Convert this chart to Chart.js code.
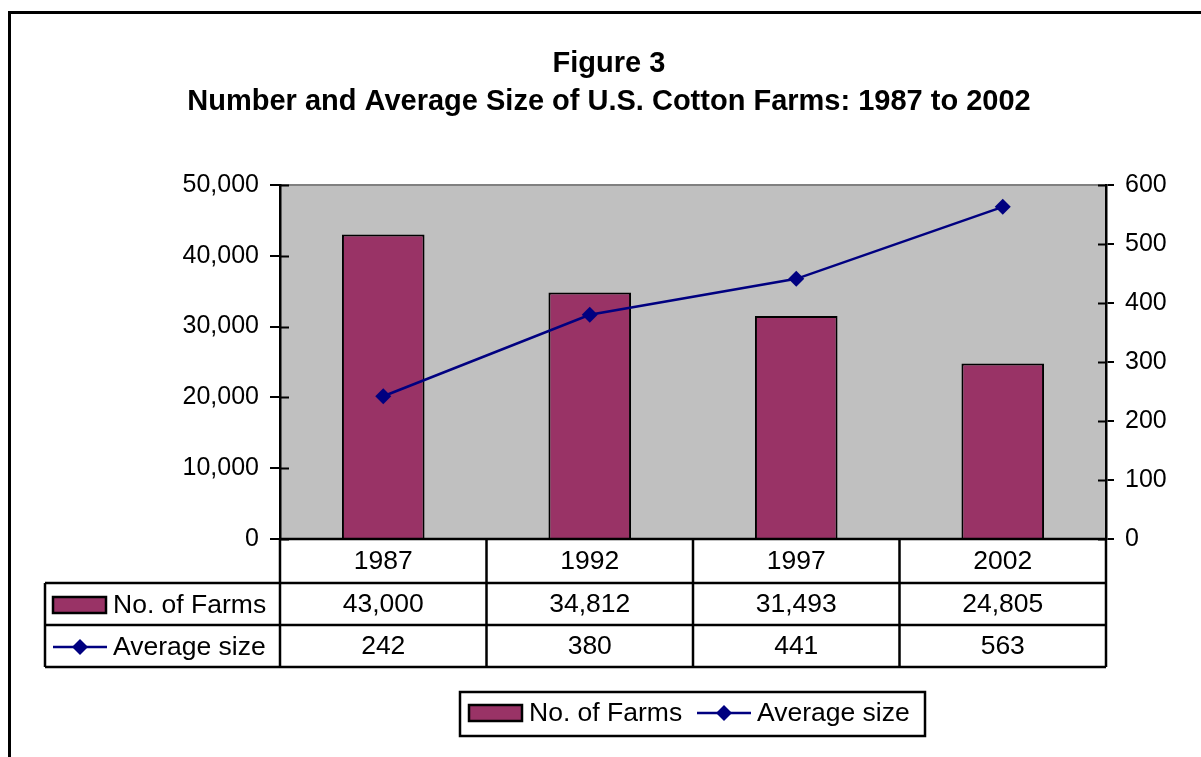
<!DOCTYPE html>
<html>
<head>
<meta charset="utf-8">
<script src="https://cdn.jsdelivr.net/npm/chart.js@4/dist/chart.umd.min.js"></script>
<style>
  html, body { margin: 0; padding: 0; background: #fff; }
  canvas { display: block; }
</style>
</head>
<body>
<canvas id="grafico" width="1201" height="757"></canvas>
<script>
// dados do gráfico
const anos = ['1987', '1992', '1997', '2002'];
const numFazendas = [43000, 34812, 31493, 24805];
const tamanhoMedio = [242, 380, 441, 563];
const tituloLinhas = ['Figure 3', 'Number and Average Size of U.S. Cotton Farms: 1987 to 2002'];

const FONTE = '"Liberation Sans", Arial, sans-serif';
const COR_BARRA = '#993366';
const COR_LINHA = '#000080';

const fmt = v => Number(v).toLocaleString('en-US');

// desenha a chave da legenda (retângulo ou linha com losango)
function desenharChave(c, tipo, x, y) {
  if (tipo === 'bar') {
    c.fillStyle = COR_BARRA;
    c.fillRect(x, y - 8, 53, 16);
    c.strokeStyle = '#000';
    c.lineWidth = 2.5;
    c.strokeRect(x, y - 8, 53, 16);
  } else {
    c.strokeStyle = COR_LINHA;
    c.lineWidth = 2.5;
    c.beginPath();
    c.moveTo(x, y);
    c.lineTo(x + 54, y);
    c.stroke();
    c.fillStyle = COR_LINHA;
    c.beginPath();
    c.moveTo(x + 27, y - 8);
    c.lineTo(x + 35, y);
    c.lineTo(x + 27, y + 8);
    c.lineTo(x + 19, y);
    c.closePath();
    c.fill();
  }
}

const molduraPlugin = {
  id: 'moldura',
  beforeDraw(chart) {
    const c = chart.ctx;
    const a = chart.chartArea;
    c.save();
    c.fillStyle = '#fff';
    c.fillRect(0, 0, chart.width, chart.height);
    c.fillStyle = '#c0c0c0';
    c.fillRect(a.left, a.top, a.right - a.left, a.bottom - a.top);
    c.strokeStyle = '#808080';
    c.lineWidth = 2;
    c.beginPath();
    c.moveTo(a.left, a.top);
    c.lineTo(a.right, a.top);
    c.stroke();
    c.restore();
  },
  afterDraw(chart) {
    const c = chart.ctx;
    const a = chart.chartArea;
    const x = chart.scales.x;
    const y = chart.scales.y;
    const y1 = chart.scales.y1;
    c.save();

    // borda externa
    c.strokeStyle = '#000';
    c.lineWidth = 3;
    c.beginPath();
    c.moveTo(9.5, chart.height);
    c.lineTo(9.5, 12.5);
    c.lineTo(chart.width, 12.5);
    c.stroke();

    // título
    c.fillStyle = '#000';
    c.textAlign = 'center';
    c.textBaseline = 'middle';
    c.font = 'bold 29px ' + FONTE;
    c.fillText(tituloLinhas[0], 609, 64);
    c.fillText(tituloLinhas[1], 609, 102);

    // marcas internas dos eixos
    c.lineWidth = 2;
    y.ticks.forEach(t => {
      const py = Math.round(y.getPixelForValue(t.value)) + 0.5;
      c.beginPath(); c.moveTo(a.left, py); c.lineTo(a.left + 9, py); c.stroke();
    });
    y1.ticks.forEach(t => {
      const py = Math.round(y1.getPixelForValue(t.value)) + 0.5;
      c.beginPath(); c.moveTo(a.right - 8, py); c.lineTo(a.right, py); c.stroke();
    });

    // tabela de dados
    const larg = (a.right - a.left) / anos.length;
    const linhas = [a.bottom, a.bottom + 44, a.bottom + 86, a.bottom + 128];
    const esq = 45;
    c.strokeStyle = '#000';
    c.lineWidth = 2.5;
    c.beginPath();
    c.moveTo(a.left, linhas[0]); c.lineTo(a.right, linhas[0]);
    for (let i = 1; i < linhas.length; i++) {
      c.moveTo(esq, linhas[i]); c.lineTo(a.right, linhas[i]);
    }
    c.moveTo(esq, linhas[1]); c.lineTo(esq, linhas[3]);
    for (let i = 0; i <= anos.length; i++) {
      const px = a.left + i * larg;
      c.moveTo(px, linhas[0]); c.lineTo(px, linhas[3]);
    }
    c.stroke();

    c.font = '26.5px ' + FONTE;
    c.fillStyle = '#000';
    c.textAlign = 'center';
    const series = [numFazendas, tamanhoMedio];
    anos.forEach((ano, i) => {
      const cx = x.getPixelForValue(i);
      c.fillText(ano, cx, (linhas[0] + linhas[1]) / 2 + 1);
      series.forEach((s, j) => {
        c.fillText(fmt(s[i]), cx, (linhas[j + 1] + linhas[j + 2]) / 2 + 1);
      });
    });
    chart.data.datasets.forEach((ds, j) => {
      const cy = (linhas[j + 1] + linhas[j + 2]) / 2;
      desenharChave(c, ds.type, 53, cy + 1);
      c.fillStyle = '#000';
      c.textAlign = 'left';
      c.fillText(ds.label, 113, cy + 2);
    });

    // legenda inferior
    c.lineWidth = 2.5;
    c.strokeStyle = '#000';
    c.strokeRect(460, 692, 465, 44);
    const ds = chart.data.datasets;
    desenharChave(c, ds[0].type, 469, 713);
    c.fillStyle = '#000';
    c.textAlign = 'left';
    c.fillText(ds[0].label, 529, 714);
    desenharChave(c, ds[1].type, 697, 713);
    c.fillStyle = '#000';
    c.fillText(ds[1].label, 757, 714);

    c.restore();
  }
};

new Chart(document.getElementById('grafico'), {
  data: {
    labels: anos,
    datasets: [{
      type: 'bar',
      label: 'No. of Farms',
      data: numFazendas,
      yAxisID: 'y',
      backgroundColor: COR_BARRA,
      borderColor: '#000',
      borderWidth: 2,
      barPercentage: 0.4,
      categoryPercentage: 1,
      order: 2
    }, {
      type: 'line',
      label: 'Average size',
      data: tamanhoMedio,
      yAxisID: 'y1',
      borderColor: COR_LINHA,
      backgroundColor: COR_LINHA,
      borderWidth: 2.5,
      pointStyle: 'rectRot',
      pointRadius: 8,
      pointBorderWidth: 0,
      tension: 0,
      order: 1
    }]
  },
  options: {
    responsive: false,
    animation: false,
    layout: { padding: { left: 0, right: 0, top: 185, bottom: 218 } },
    plugins: {
      legend: { display: false },
      title: { display: false },
      tooltip: { enabled: false }
    },
    scales: {
      x: { display: false, offset: true },
      y: {
        position: 'left',
        min: 0, max: 50000,
        ticks: { stepSize: 10000, padding: 11, color: '#000', font: { family: FONTE, size: 25 }, callback: v => fmt(v) },
        grid: { drawOnChartArea: false, drawTicks: true, tickLength: 10, color: '#000', lineWidth: 2 },
        border: { display: true, color: '#000', width: 2.5 },
        afterFit: s => { s.width = 280; }
      },
      y1: {
        position: 'right',
        min: 0, max: 600,
        ticks: { stepSize: 100, padding: 11, color: '#000', font: { family: FONTE, size: 25 } },
        grid: { drawOnChartArea: false, drawTicks: true, tickLength: 8, color: '#000', lineWidth: 2 },
        border: { display: true, color: '#000', width: 2.5 },
        afterFit: s => { s.width = 95; }
      }
    }
  },
  plugins: [molduraPlugin]
});
</script>
</body>
</html>
